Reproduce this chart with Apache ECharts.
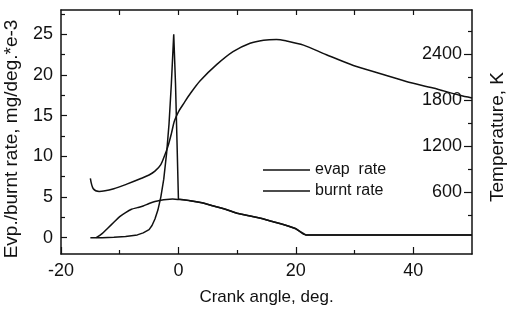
<!DOCTYPE html>
<html>
<head>
<meta charset="utf-8">
<script src="https://cdn.jsdelivr.net/npm/echarts@6/dist/echarts.min.js"></script>
<style>
  html, body { margin: 0; padding: 0; background: #fff; }
  #chart { width: 507px; height: 309px; }
</style>
</head>
<body>
<div id="chart"></div>
<script>
// tick labels
const angleTicks = [-20, 0, 20, 40];
const angleMinor = [-10, 10, 30];
const angleTop = [-10, 0, 10, 20, 30, 40];
const rateTicks = [0, 5, 10, 15, 20, 25];
const rateMinor = [2.5, 7.5, 12.5, 17.5, 22.5, 27.5];
const tempTicks = [600, 1200, 1800, 2400];
const tempMinor = [300, 900, 1500, 2100, 2700];

// temperature, K (right axis)
const tempAngle = [-15, -14.5, -13.5, -11, -8.8, -6.5, -5, -4, -3, -2.3, -1.8, -1.2, -0.7, 0, 1, 2, 3.7, 6.5, 9.3, 12.2, 14.5, 16.7, 18.4, 21.3, 25.2, 29.8, 34.3, 38.8, 43.4, 47.9, 50];
const tempK = [775, 640, 605, 640, 700, 770, 820, 870, 955, 1085, 1190, 1360, 1520, 1645, 1765, 1880, 2050, 2260, 2430, 2540, 2580, 2590, 2570, 2515, 2390, 2250, 2145, 2040, 1955, 1860, 1825];

// evaporation rate, mg/deg *e-3
const evapAngle = [-14, -13, -12, -11, -10, -9, -8, -7, -6, -5, -4, -3, -2, -1, 0, 2, 4, 6, 8, 10, 12, 14, 16, 18, 20, 21.7, 30, 40, 50];
const evapRate = [0, 0.5, 1.2, 1.9, 2.6, 3.1, 3.5, 3.7, 3.9, 4.2, 4.45, 4.6, 4.7, 4.75, 4.7, 4.55, 4.3, 3.9, 3.5, 3.0, 2.7, 2.4, 2.0, 1.6, 1.1, 0.35, 0.35, 0.35, 0.35];

// burnt rate, mg/deg *e-3
const burntAngle = [-15, -13, -11, -9, -7, -6, -5, -4.5, -4, -3.5, -3, -2.5, -2, -1.6, -1.2, -0.8, -0.5, -0.25, 0, 2, 4, 6, 8, 10, 12, 14, 16, 18, 20, 21.7, 30, 40, 50];
const burntRate = [0, 0, 0.05, 0.15, 0.35, 0.6, 1.0, 1.5, 2.3, 3.4, 5.0, 7.2, 10.5, 14, 19, 25, 19, 12, 4.75, 4.55, 4.3, 3.9, 3.5, 3.0, 2.7, 2.4, 2.0, 1.6, 1.1, 0.35, 0.35, 0.35, 0.35];

const font = 'Liberation Sans, Arial, sans-serif';
const ink = '#111';

function pairs(xs, ys) {
  return xs.map((x, i) => [x, ys[i]]);
}

function plain(v) {
  return String(v);
}

// extra axis that only draws short (minor) ticks
function tickAxis(extra, values) {
  return Object.assign({
    type: 'value',
    axisLine: { show: false, onZero: false },
    axisLabel: { show: false },
    splitLine: { show: false },
    axisTick: { show: true, inside: true, length: 4, customValues: values, lineStyle: { color: ink, width: 1.2 } }
  }, extra);
}

const myChart = echarts.init(document.getElementById('chart'));
const option = {
  animation: false,
  backgroundColor: '#fff',
  grid: { left: 61, right: 35, top: 10, bottom: 55, outerBoundsMode: 'none', containLabel: false },
  legend: {
    left: 258,
    top: 157,
    orient: 'vertical',
    icon: 'rect',
    itemWidth: 47,
    itemHeight: 1.5,
    itemGap: 5,
    data: ['evap  rate', 'burnt rate'],
    textStyle: { fontFamily: font, fontSize: 16, color: ink, lineHeight: 16 }
  },
  xAxis: [
    {
      type: 'value', min: -20, max: 50,
      name: 'Crank angle, deg.', nameLocation: 'middle', nameGap: 35,
      nameTextStyle: { fontFamily: font, fontSize: 17, color: ink },
      axisLine: { onZero: false, lineStyle: { color: ink, width: 1.5 } },
      axisTick: { inside: true, length: 7, customValues: angleTicks, lineStyle: { color: ink, width: 1.2 } },
      axisLabel: { customValues: angleTicks, formatter: plain, margin: 8, fontFamily: font, fontSize: 18, color: ink },
      splitLine: { show: false }
    },
    {
      type: 'value', min: -20, max: 50, position: 'top',
      axisLine: { onZero: false, lineStyle: { color: ink, width: 1.5 } },
      axisTick: { inside: true, length: 5, customValues: angleTop, lineStyle: { color: ink, width: 1.2 } },
      axisLabel: { show: false },
      splitLine: { show: false }
    },
    tickAxis({ min: -20, max: 50, position: 'bottom' }, angleMinor)
  ],
  yAxis: [
    {
      type: 'value', min: -2, max: 28,
      name: 'Evp./burnt rate, mg/deg.*e-3', nameLocation: 'middle', nameGap: 40,
      nameTextStyle: { fontFamily: font, fontSize: 19, color: ink, padding: [0, 14, 0, 0] },
      axisLine: { show: true, onZero: false, lineStyle: { color: ink, width: 1.5 } },
      axisTick: { show: true, inside: true, length: 6, customValues: rateTicks, lineStyle: { color: ink, width: 1.2 } },
      axisLabel: { customValues: rateTicks, formatter: plain, margin: 8, fontFamily: font, fontSize: 18, color: ink },
      splitLine: { show: false }
    },
    {
      type: 'value', min: -212, max: 2974, position: 'right',
      name: 'Temperature, K', nameLocation: 'middle', nameGap: 16,
      nameTextStyle: { fontFamily: font, fontSize: 19, color: ink, verticalAlign: 'top', padding: [0, 10, 0, 0] },
      axisLine: { show: true, onZero: false, lineStyle: { color: ink, width: 1.5 } },
      axisTick: { show: true, inside: true, length: 8, customValues: tempTicks, lineStyle: { color: ink, width: 1.2 } },
      axisLabel: { inside: true, customValues: tempTicks, formatter: plain, margin: 10, fontFamily: font, fontSize: 18, color: ink },
      splitLine: { show: false }
    },
    tickAxis({ min: -2, max: 28, position: 'left' }, rateMinor),
    tickAxis({ min: -212, max: 2974, position: 'right' }, tempMinor)
  ],
  series: [
    {
      name: 'Temperature', type: 'line', yAxisIndex: 1, smooth: 0.3,
      symbol: 'none', color: ink, lineStyle: { color: ink, width: 1.5 },
      data: pairs(tempAngle, tempK)
    },
    {
      name: 'evap  rate', type: 'line', smooth: 0.3,
      symbol: 'none', color: ink, lineStyle: { color: ink, width: 1.5 },
      data: pairs(evapAngle, evapRate)
    },
    {
      name: 'burnt rate', type: 'line',
      symbol: 'none', color: ink, lineStyle: { color: ink, width: 1.5 },
      data: pairs(burntAngle, burntRate)
    }
  ]
};
myChart.setOption(option);
</script>
</body>
</html>
